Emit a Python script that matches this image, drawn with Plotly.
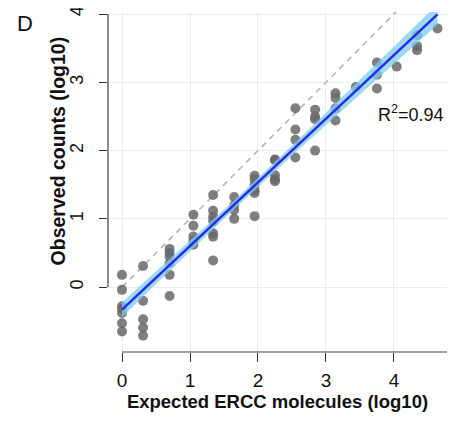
import numpy as np
import plotly.graph_objects as go

# ---- data (log10 scale) ----
expected_log10 = [
    0, 0, 0, 0, 0, 0, 0,
    0.31, 0.31, 0.31, 0.31, 0.31,
    0.70, 0.70, 0.70, 0.70, 0.70, 0.70,
    1.05, 1.05, 1.05, 1.05, 1.05,
    1.34, 1.34, 1.34, 1.34, 1.34, 1.34, 1.34,
    1.65, 1.65, 1.65, 1.65,
    1.95, 1.95, 1.95, 1.95, 1.95, 1.95,
    2.25, 2.25, 2.25, 2.25, 2.25,
    2.55, 2.55, 2.55, 2.55,
    2.84, 2.84, 2.84, 2.84,
    3.14, 3.14, 3.14, 3.14,
    3.44,
    3.75, 3.75, 3.75,
    4.04,
    4.34, 4.34, 4.34,
    4.64,
]
observed_log10 = [
    0.18, -0.04, -0.28, -0.32, -0.38, -0.53, -0.65,
    0.31, -0.20, -0.47, -0.59, -0.71,
    0.56, 0.50, 0.45, 0.35, 0.18, -0.13,
    1.06, 0.90, 0.74, 0.68, 0.62,
    1.35, 1.12, 1.03, 0.97, 0.79, 0.74, 0.39,
    1.32, 1.20, 1.13, 1.00,
    1.63, 1.58, 1.50, 1.42, 1.38, 1.04,
    1.87, 1.86, 1.64, 1.58, 1.55,
    2.62, 2.31, 2.16, 1.90,
    2.60, 2.50, 2.46, 2.00,
    2.84, 2.77, 2.62, 2.44,
    2.93,
    3.29, 3.11, 2.91,
    3.23,
    3.69, 3.53, 3.47,
    3.79,
]
# fitted regression line as drawn in the reference
fit_intercept = -0.33
fit_slope = 0.932
r2_label = "R<sup>2</sup>=0.94"
x_title = "<b>Expected ERCC molecules (log10)</b>"
y_title = "<b>Observed counts (log10)</b>"
x_ticks = [0, 1, 2, 3, 4]
y_ticks = [0, 1, 2, 3, 4]

# ---- 95% confidence band around the fitted line ----
x = np.array(expected_log10)
y = np.array(observed_log10)
n = len(x)
resid = y - (fit_slope * x + fit_intercept)
s = np.sqrt(np.sum(resid ** 2) / (n - 2))
sxx = np.sum((x - x.mean()) ** 2)
t_crit = 1.997
xf = np.linspace(x.min(), x.max(), 100)
yf = fit_slope * xf + fit_intercept
se = s * np.sqrt(1 / n + (xf - x.mean()) ** 2 / sxx)
upper = yf + t_crit * se
lower = yf - t_crit * se

font_family = "Liberation Sans, Arial, Helvetica, sans-serif"
x_range = [-0.206, 4.78]
y_range = [-0.95, 4.03]

fig = go.Figure()

# identity line
fig.add_trace(go.Scatter(
    x=[0, 5], y=[0, 5], mode="lines",
    line=dict(color="#b5b5b5", width=1.6, dash="6px,5px"),
    hoverinfo="skip", showlegend=False))

# points
fig.add_trace(go.Scatter(
    x=x, y=y, mode="markers",
    marker=dict(size=10, color="rgba(105,105,105,0.85)", line=dict(width=0)),
    showlegend=False))

# confidence band
fig.add_trace(go.Scatter(
    x=np.concatenate([xf, xf[::-1]]), y=np.concatenate([upper, lower[::-1]]),
    fill="toself", fillcolor="rgba(120,205,242,0.75)",
    line=dict(width=0), mode="lines", hoverinfo="skip", showlegend=False))

# fitted line
fig.add_trace(go.Scatter(
    x=xf, y=yf, mode="lines",
    line=dict(color="#2b2be6", width=2.5),
    hoverinfo="skip", showlegend=False))

fig.update_layout(
    width=447, height=413,
    margin=dict(l=100, r=8, t=4, b=69, autoexpand=False),
    paper_bgcolor="white", plot_bgcolor="white",
    font=dict(family=font_family, color="#111111"),
    xaxis=dict(
        range=x_range, tickvals=x_ticks, ticks="outside", ticklen=9,
        tickcolor="#333333", tickwidth=1, showline=False, zeroline=False,
        showgrid=True, gridcolor="#ececec", gridwidth=1, automargin=False,
        tickfont=dict(size=19, color="#111111"), ticklabelstandoff=2,
        ticklabeloverflow="allow",
        title=dict(text=x_title, font=dict(size=18.5), standoff=4),
    ),
    yaxis=dict(
        range=y_range, tickvals=y_ticks, ticks="outside", ticklen=8,
        tickcolor="#333333", tickwidth=1, showline=False, zeroline=False,
        showgrid=True, gridcolor="#ececec", gridwidth=1, tickangle=-90,
        automargin=False, ticklabeloverflow="allow",
        tickfont=dict(size=18, color="#111111"), ticklabelstandoff=9,
    ),
    shapes=[
        dict(type="line", xref="x", yref="paper", x0=0, x1=x_range[1], y0=0, y1=0,
             line=dict(color="#444444", width=1.2)),
        dict(type="line", xref="paper", yref="y", x0=0, x1=0, y0=0, y1=4,
             line=dict(color="#444444", width=1.2)),
    ],
    annotations=[
        dict(text=y_title, xref="paper", yref="y", x=-0.148, y=2.0,
             xanchor="center", yanchor="middle", textangle=-90, showarrow=False,
             font=dict(size=19.5, color="#111111")),
        dict(text="D", xref="paper", yref="paper", x=-0.245, y=0.965,
             xanchor="center", yanchor="middle", showarrow=False,
             font=dict(size=22, color="#111111")),
        dict(text=r2_label, xref="x", yref="y", x=4.25, y=2.54,
             xanchor="center", yanchor="middle", showarrow=False,
             font=dict(size=18, color="#111111")),
    ],
)

fig.write_html("out.html")
